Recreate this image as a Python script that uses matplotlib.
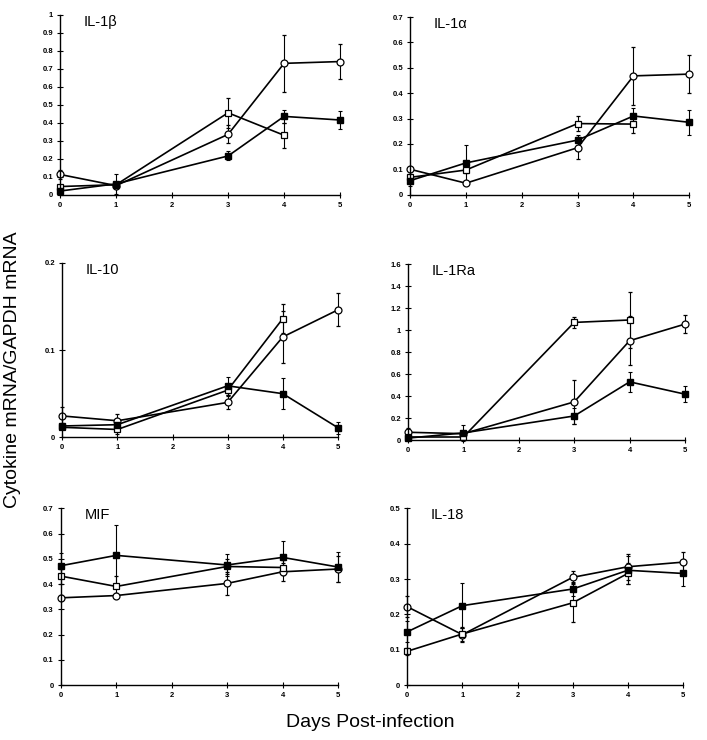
import matplotlib
matplotlib.use("Agg")
import matplotlib.pyplot as plt
from matplotlib.ticker import FuncFormatter

plt.rcParams['font.family'] = ['Liberation Sans', 'DejaVu Sans']

# dias de muestreo
days = [0, 1, 3, 4, 5]
days_sq = [0, 1, 3, 4]

# IL-1beta
il1b_fsq = [0.02, 0.06, 0.215, 0.435, 0.415]
il1b_fsq_err = [0.01, 0.055, 0.025, 0.035, 0.05]
il1b_osq = [0.045, 0.055, 0.455, 0.33]
il1b_osq_err = [0.01, 0.01, 0.085, 0.07]
il1b_oc = [0.112, 0.05, 0.335, 0.73, 0.74]
il1b_oc_err = [0.025, 0.02, 0.05, 0.16, 0.095]

# IL-1alpha
il1a_fsq = [0.055, 0.125, 0.215, 0.31, 0.285]
il1a_fsq_err = [0.02, 0.07, 0.02, 0.032, 0.05]
il1a_osq = [0.068, 0.097, 0.28, 0.278]
il1a_osq_err = [0.01, 0.01, 0.03, 0.035]
il1a_oc = [0.10, 0.045, 0.185, 0.468, 0.475]
il1a_oc_err = [0.01, 0.005, 0.043, 0.115, 0.075]

# IL-10
il10_fsq = [0.013, 0.0145, 0.059, 0.05, 0.011]
il10_fsq_err = [0.003, 0.004, 0.01, 0.018, 0.007]
il10_osq = [0.0115, 0.009, 0.054, 0.136]
il10_osq_err = [0.002, 0.005, 0.005, 0.017]
il10_oc = [0.0245, 0.019, 0.040, 0.115, 0.146]
il10_oc_err = [0.01, 0.008, 0.007, 0.03, 0.019]

# IL-1Ra
il1ra_fsq = [0.02, 0.067, 0.221, 0.531, 0.419]
il1ra_fsq_err = [0.01, 0.07, 0.07, 0.09, 0.07]
il1ra_osq = [0.03, 0.03, 1.071, 1.093]
il1ra_osq_err = [0.01, 0.01, 0.05, 0.25]
il1ra_oc = [0.073, 0.06, 0.349, 0.905, 1.056]
il1ra_oc_err = [0.04, 0.02, 0.2, 0.22, 0.08]

# MIF
mif_fsq = [0.473, 0.514, 0.476, 0.506, 0.468]
mif_fsq_err = [0.05, 0.122, 0.045, 0.065, 0.058]
mif_osq = [0.432, 0.391, 0.47, 0.466]
mif_osq_err = [0.03, 0.04, 0.03, 0.03]
mif_oc = [0.346, 0.355, 0.403, 0.449, 0.46]
mif_oc_err = [0.01, 0.01, 0.045, 0.035, 0.05]

# IL-18
il18_fsq = [0.151, 0.225, 0.272, 0.325, 0.316]
il18_fsq_err = [0.03, 0.064, 0.02, 0.04, 0.036]
il18_osq = [0.096, 0.145, 0.233, 0.316]
il18_osq_err = [0.01, 0.02, 0.055, 0.03]
il18_oc = [0.222, 0.143, 0.305, 0.335, 0.348]
il18_oc_err = [0.03, 0.02, 0.018, 0.037, 0.028]

panels = [
    ('IL-1\u03b2', il1b_fsq, il1b_fsq_err, il1b_osq, il1b_osq_err, il1b_oc, il1b_oc_err, 1.0, 0.1),
    ('IL-1\u03b1', il1a_fsq, il1a_fsq_err, il1a_osq, il1a_osq_err, il1a_oc, il1a_oc_err, 0.7, 0.1),
    ('IL-10', il10_fsq, il10_fsq_err, il10_osq, il10_osq_err, il10_oc, il10_oc_err, 0.2, 0.1),
    ('IL-1Ra', il1ra_fsq, il1ra_fsq_err, il1ra_osq, il1ra_osq_err, il1ra_oc, il1ra_oc_err, 1.6, 0.2),
    ('MIF', mif_fsq, mif_fsq_err, mif_osq, mif_osq_err, mif_oc, mif_oc_err, 0.7, 0.1),
    ('IL-18', il18_fsq, il18_fsq_err, il18_osq, il18_osq_err, il18_oc, il18_oc_err, 0.5, 0.1),
]

# posiciones de los ejes (left, bottom, width, height)
boxes = [
    [0.085, 0.737, 0.396, 0.243],
    [0.580, 0.737, 0.395, 0.240],
    [0.088, 0.409, 0.390, 0.236],
    [0.577, 0.405, 0.392, 0.238],
    [0.086, 0.074, 0.392, 0.239],
    [0.576, 0.074, 0.390, 0.239],
]

fig = plt.figure(figsize=(7.07, 7.4), dpi=100)

for box, (name, fsq, fsq_e, osq, osq_e, oc, oc_e, ymax, step) in zip(boxes, panels):
    ax = fig.add_axes(box)
    kw = dict(color='black', lw=1.2, capsize=1.5, elinewidth=0.8, capthick=0.8, clip_on=False)
    ax.errorbar(days, oc, yerr=oc_e, marker='o', ms=5, mfc='white', mec='black', mew=0.9, **kw)
    ax.errorbar(days_sq, osq, yerr=osq_e, marker='s', ms=4.5, mfc='white', mec='black', mew=0.9, **kw)
    ax.errorbar(days, fsq, yerr=fsq_e, marker='s', ms=4.2, mfc='black', mec='black', **kw)
    ax.set_xlim(0, 5)
    ax.set_ylim(0, ymax)
    ax.set_xticks(range(6))
    n = int(round(ymax / step))
    ax.set_yticks([i * step for i in range(n + 1)])
    ax.yaxis.set_major_formatter(FuncFormatter(lambda v, p: ('%.1f' % v).rstrip('0').rstrip('.') if v else '0'))
    for s in ['top', 'right']:
        ax.spines[s].set_visible(False)
    ax.spines['left'].set_linewidth(1.0)
    ax.spines['bottom'].set_linewidth(1.0)
    ax.tick_params(direction='inout', length=4, width=0.8, labelsize=5.5, pad=3)
    for lab in ax.get_xticklabels() + ax.get_yticklabels():
        lab.set_fontweight('bold')
    ax.text(0.085, 1.0, name, transform=ax.transAxes, fontsize=10.5, va='top', ha='left')

fig.text(0.018, 0.5, 'Cytokine mRNA/GAPDH mRNA', rotation=90, fontsize=14, va='center', ha='center')
fig.text(0.523, 0.024, 'Days Post-infection', fontsize=14, va='center', ha='center')

fig.savefig('out.png', dpi=100)
